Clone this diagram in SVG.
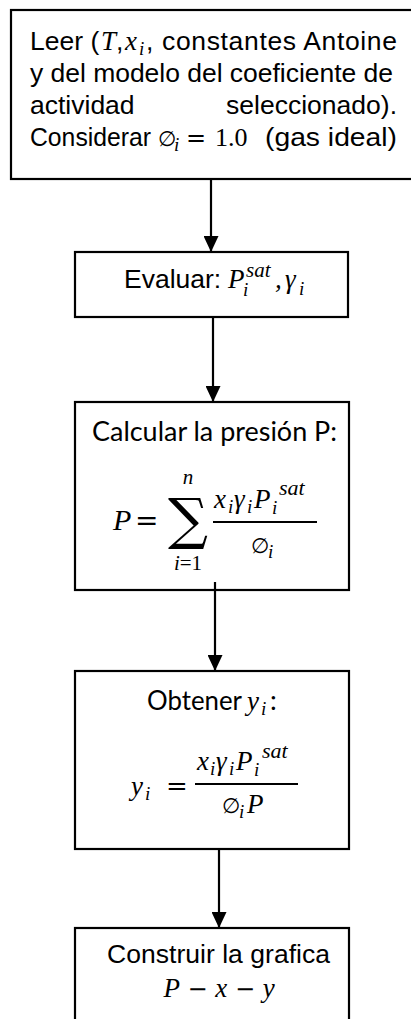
<svg xmlns="http://www.w3.org/2000/svg" width="411" height="1019" viewBox="0 0 411 1019">
<style>
.box{fill:#fff;stroke:#000;stroke-width:2.2}
.conn{stroke:#000;stroke-width:2.2;fill:none}
.t{font-family:"Liberation Sans",Arial,sans-serif;font-size:26.5px;fill:#000}
.c{font-family:Lato,"Open Sans","Liberation Sans",sans-serif;font-size:27px;fill:#000}
.m{font-family:"Liberation Serif","Times New Roman",serif;font-style:italic;font-size:27px;fill:#000}
.mu{font-family:"DejaVu Serif","Liberation Serif",serif;font-size:24px;fill:#000}
.e{font-family:"DejaVu Serif","Liberation Serif",serif;font-size:21px;fill:#000}
.s{font-family:"Liberation Serif","Times New Roman",serif;font-style:italic;font-size:19px;fill:#000}
.su{font-family:"Liberation Serif","Times New Roman",serif;font-size:19px;fill:#000}
.fl{stroke:#000;stroke-width:2.2}
</style>
<defs>
<marker id="ah" markerUnits="userSpaceOnUse" markerWidth="16" markerHeight="15" refX="16" refY="7.5" orient="auto">
<path d="M0,0 L16,7.5 L0,15 Z" fill="#000"/>
</marker>
</defs>

<g id="node1">
<rect class="box" x="11" y="10" width="420" height="169"/>
<text class="t" x="30" y="50">Leer (</text>
<text class="m" x="101" y="50">T</text>
<text class="t" x="116" y="50">,</text>
<text class="m" x="125" y="50">x</text>
<text class="s" x="139" y="55">i</text>
<text class="t" x="146" y="50" textLength="251" lengthAdjust="spacing">, constantes Antoine</text>
<text class="t" x="30" y="82" textLength="363" lengthAdjust="spacing">y del modelo del coeficiente de</text>
<text class="t" x="30" y="114">actividad</text>
<text class="t" x="397" y="114" text-anchor="end">seleccionado).</text>
<text class="t" x="30" y="146" textLength="121" lengthAdjust="spacingAndGlyphs">Considerar</text>
<text class="e" x="158" y="146">∅</text>
<text class="s" x="174" y="151">i</text>
<text class="mu" x="186" y="146">=</text>
<text class="su" x="215" y="146" style="font-size:26px">1.0</text>
<text class="t" x="397" y="146" text-anchor="end" textLength="132" lengthAdjust="spacingAndGlyphs">(gas ideal)</text>
</g>

<g id="node2">
<rect class="box" x="75" y="252" width="273" height="65"/>
<text class="t" x="124" y="288">Evaluar:</text>
<text class="m" x="228" y="288">P</text>
<text class="s" x="243" y="296">i</text>
<text class="s" x="246" y="277" style="font-size:21px">sat</text>
<text class="m" x="275" y="288">,</text>
<text class="m" x="285" y="288">γ</text>
<text class="s" x="299" y="295">i</text>
</g>

<g id="node3">
<rect class="box" x="75" y="402" width="274" height="188"/>
<text class="c" x="92" y="441" textLength="245" lengthAdjust="spacingAndGlyphs">Calcular la presión P:</text>
<text class="m" x="113" y="530" style="font-size:30px">P</text>
<text class="mu" x="135" y="530" style="font-size:28px">=</text>
<text class="mu" x="188" y="538" text-anchor="middle" style="font-size:56px">∑</text>
<text class="s" x="188" y="484" text-anchor="middle" style="font-size:21px">n</text>
<text x="188" y="570" text-anchor="middle"><tspan class="s" style="font-size:21px">i</tspan><tspan class="su" style="font-size:21px">=1</tspan></text>
<text class="m" x="214" y="508">x</text>
<text class="s" x="228" y="513">i</text>
<text class="m" x="234" y="508">γ</text>
<text class="s" x="247" y="513">i</text>
<text class="m" x="254" y="508">P</text>
<text class="s" x="272" y="514">i</text>
<text class="s" x="279" y="495" style="font-size:22px">sat</text>
<line class="fl" x1="213" y1="522" x2="317" y2="522"/>
<text class="e" x="251" y="553">∅</text>
<text class="s" x="268" y="558">i</text>
</g>

<g id="node4">
<rect class="box" x="75" y="671" width="274" height="178"/>
<text class="c" x="147" y="710" textLength="95" lengthAdjust="spacingAndGlyphs">Obtener</text>
<text class="m" x="247" y="710">y</text>
<text class="s" x="261" y="715">i</text>
<text class="c" x="270" y="710">:</text>
<text class="m" x="131" y="795">y</text>
<text class="s" x="145" y="800">i</text>
<text class="mu" x="166" y="795" style="font-size:26px">=</text>
<line class="fl" x1="195" y1="784" x2="298" y2="784"/>
<text class="m" x="197" y="770">x</text>
<text class="s" x="210" y="775">i</text>
<text class="m" x="216" y="770">γ</text>
<text class="s" x="229" y="775">i</text>
<text class="m" x="236" y="770">P</text>
<text class="s" x="254" y="776">i</text>
<text class="s" x="262" y="758" style="font-size:22px">sat</text>
<text class="e" x="222" y="813">∅</text>
<text class="s" x="239" y="818">i</text>
<text class="m" x="247" y="813">P</text>
</g>

<g id="node5">
<rect class="box" x="75" y="928" width="274" height="120"/>
<text class="t" x="107" y="963" textLength="223" lengthAdjust="spacing">Construir la grafica</text>
<text x="219" y="997" text-anchor="middle"><tspan class="m">P</tspan><tspan class="mu"> − </tspan><tspan class="m">x</tspan><tspan class="mu"> − </tspan><tspan class="m">y</tspan></text>
</g>

<g id="connectors">
<line class="conn" x1="211" y1="179" x2="211" y2="252" marker-end="url(#ah)"/>
<line class="conn" x1="213" y1="317" x2="213" y2="402" marker-end="url(#ah)"/>
<line class="conn" x1="215" y1="582" x2="215" y2="671" marker-end="url(#ah)"/>
<line class="conn" x1="219" y1="849" x2="219" y2="928" marker-end="url(#ah)"/>
</g>
</svg>
